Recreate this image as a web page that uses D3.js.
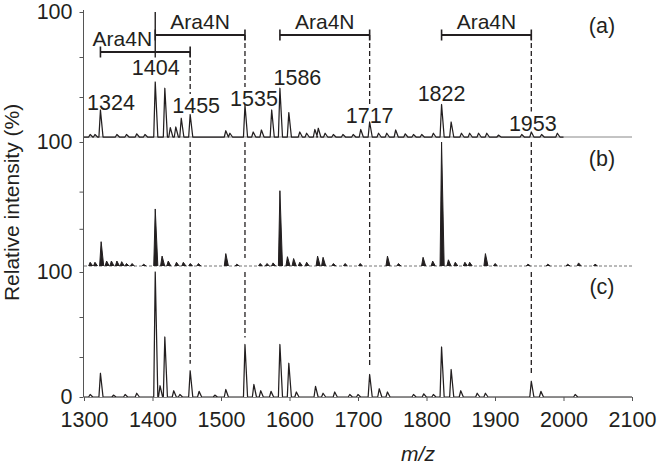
<!DOCTYPE html>
<html>
<head>
<meta charset="utf-8">
<script src="https://cdn.jsdelivr.net/npm/d3@7"></script>
<style>
body { margin: 0; background: #fff; }
text { font-family: "Liberation Sans", Arial, sans-serif; fill: #231f20; }
</style>
</head>
<body>
<svg id="chart"></svg>
<script>
// m/z axis
const xTicks = [1300, 1400, 1500, 1600, 1700, 1800, 1900, 2000, 2100];

// peaks: [m/z, relative intensity %]
const peaksA = [
  [1309,2],[1316,2],[1324,21.6],[1348,2],[1362,2],[1377,2.5],[1389,2],
  [1404,44],[1418,39],[1426,7.5],[1434,8],[1442,15],[1455,18],
  [1507,5],[1513,3],[1535,25.6],[1547,4],[1559,5.6],[1574,21.6],[1586,39],[1599,19.5],
  [1615,4],[1625,3],[1637,6],[1642,7],[1652,3],[1664,2],[1678,2],[1693,2],
  [1704,6],[1717,12],[1730,3],[1742,3],[1755,5.6],[1769,2.5],[1781,2],[1793,2],[1810,3],
  [1822,26],[1836,12],[1851,3],[1863,3],[1876,3],[1888,3],[1905,1.5],[1939,2],[1953,4],[1968,2],[1991,3]
];
const peaksB = [
  [1309,3],[1316,3],[1325,19.6],[1333,4],[1340,4],[1348,4],[1355,3.5],[1362,2],[1370,2],[1387,1.5],
  [1404,46],[1414,8],[1423,4],[1435,3],[1445,3],[1455,2],[1467,2],
  [1507,10],[1523,1.5],[1557,2],[1567,2],[1576,2.5],
  [1586,60.7],[1597,7.5],[1606,6],[1615,3],[1625,3],[1641,8],[1649,7],[1664,2],[1681,2],
  [1703,2],[1743,8],[1759,2],[1795,7],[1809,4],
  [1822,100],[1832,5],[1842,3],[1856,3],[1863,3],[1886,10],[1900,2],[1948,1.5],[1977,1.5],[2006,1.5],[2022,2.5],[2046,1.5]
];
const peaksC = [
  [1309,2],[1324,19],[1343,1.5],[1360,2],[1377,3],
  [1404,100],[1411,9],[1418,48],[1431,5],[1440,2],[1455,21],[1468,4.5],[1491,1.5],
  [1507,6],[1535,42],[1548,10],[1558,5],[1573,4.5],[1586,42],[1599,27],[1610,4],
  [1638,8.5],[1649,3],[1666,4],[1688,2],[1700,2],
  [1717,18],[1731,6.6],[1743,4],[1781,2],[1796,2.5],[1810,2],
  [1822,40],[1836,22],[1850,5],[1874,3],[1886,3],
  [1953,12.6],[1967,4.5],[2017,2]
];

// annotations
const peakLabels = [1324, 1404, 1455, 1535, 1586, 1717, 1822, 1953];
const brackets = [[1324, 1455], [1404, 1535], [1586, 1717], [1822, 1953]];
const bracketText = "Ara4N";
const dashedAt = [1455, 1535, 1717, 1953];
const panelNames = ["(a)", "(b)", "(c)"];

const W = 658, H = 466;
const ink = "#231f20";
const svg = d3.select("#chart").attr("width", W).attr("height", H);

const x = d3.scaleLinear().domain([1300, 2100]).range([84, 632]);

const panels = [
  { name: panelNames[0], peaks: peaksA, y: d3.scaleLinear().domain([0, 100]).range([137, 12]), end: 2000, minor: [32, 64], nameY: 32.5 },
  { name: panelNames[1], peaks: peaksB, y: d3.scaleLinear().domain([0, 100]).range([266, 142]), end: 2100, minor: [30, 60], nameY: 165.5 },
  { name: panelNames[2], peaks: peaksC, y: d3.scaleLinear().domain([0, 100]).range([397, 272]), end: 2100, minor: [32, 64], nameY: 294 }
];

const wl = 2.2, wr = 3.8; // peak half widths in m/z units

function peakPts(p) {
  return [[p[0] - wl, 0], [p[0], p[1]], [p[0] + wr, 0]];
}

// y axis line
svg.append("line")
   .attr("x1", 83.5).attr("x2", 83.5)
   .attr("y1", 10).attr("y2", 397)
   .attr("stroke", "#555").attr("stroke-width", 1);

panels.forEach(function(pn, i) {
  let y = pn.y;
  let line = d3.line().x(d => x(d[0])).y(d => y(d[1]));

  // baselines
  if (i == 0) {
    svg.append("line").attr("x1", x(1300)).attr("x2", x(2100))
       .attr("y1", y(0)).attr("y2", y(0))
       .attr("stroke", "#888").attr("stroke-width", 1);
  }
  if (i == 1) {
    svg.append("line").attr("x1", x(1300)).attr("x2", x(2100))
       .attr("y1", y(0)).attr("y2", y(0))
       .attr("stroke", "#777").attr("stroke-width", 1)
       .attr("stroke-dasharray", "3,2");
  }

  // spectrum
  if (i == 1) {
    pn.peaks.forEach(function(p) {
      svg.append("path").attr("d", line(peakPts(p)))
         .attr("fill", ink).attr("stroke", ink).attr("stroke-width", 1);
    });
  } else {
    let pts = [[1300, 0]];
    pn.peaks.forEach(p => pts.push(...peakPts(p)));
    pts.push([pn.end, 0]);
    svg.append("path").attr("d", line(pts))
       .attr("fill", "none").attr("stroke", ink).attr("stroke-width", 1.25)
       .attr("stroke-linejoin", "round");
  }

  // y ticks
  let ax = d3.axisLeft(y)
             .tickValues([100].concat(pn.minor).concat(i == 2 ? [0] : []))
             .tickSize(4).tickPadding(7)
             .tickFormat(d => (d == 100 || d == 0) ? d : "");
  let g = svg.append("g").attr("transform", "translate(83.5,0)").call(ax);
  g.select(".domain").remove();
  g.selectAll("line").attr("stroke", "#555");
  g.selectAll("text").style("font-size", "21.5px").attr("fill", ink)
   .style("font-family", "'Liberation Sans', Arial, sans-serif");

  svg.append("text")
     .attr("x", 602).attr("y", pn.nameY)
     .attr("text-anchor", "middle")
     .style("font-size", "21.5px")
     .text(pn.name);
});

// x axis
let xg = svg.append("g").attr("transform", "translate(0,397)")
            .call(d3.axisBottom(x).tickValues(xTicks).tickFormat(d3.format("d"))
                    .tickSize(4).tickSizeOuter(0).tickPadding(11));
xg.select(".domain").attr("stroke", "#888");
xg.selectAll("line").attr("stroke", "#555");
xg.selectAll("text").style("font-size", "21.5px").attr("fill", ink)
  .style("font-family", "'Liberation Sans', Arial, sans-serif");

// panel (a) annotations
const yA = panels[0].y, yB = panels[1].y, yC = panels[2].y;
const labelPlace = { 1324: [10.5, 22], 1404: [0.5, 49.6], 1455: [6, 19.2], 1535: [9, 24.8],
                     1586: [17.5, 41.6], 1717: [0, 11.2], 1822: [0, 29.2], 1953: [1.5, 5.2] };
peakLabels.forEach(function(m) {
  svg.append("text")
     .attr("x", x(m) + labelPlace[m][0])
     .attr("y", yA(labelPlace[m][1]))
     .attr("text-anchor", "middle")
     .style("font-size", "21.5px")
     .text(m);
});

const bLevel = [68, 81.6, 81.6, 81.6];
const bTextDx = [-23, 0, 0, 0];
brackets.forEach(function(b, i) {
  let yy = yA(bLevel[i]);
  svg.append("line").attr("x1", x(b[0])).attr("x2", x(b[1]))
     .attr("y1", yy).attr("y2", yy)
     .attr("stroke", ink).attr("stroke-width", 1.8);
  [b[0], b[1]].forEach(function(m) {
    svg.append("line").attr("x1", x(m)).attr("x2", x(m))
       .attr("y1", yy - 5.5).attr("y2", yy + 5.5)
       .attr("stroke", ink).attr("stroke-width", 1.6);
  });
  svg.append("text")
     .attr("x", (x(b[0]) + x(b[1])) / 2 + bTextDx[i])
     .attr("y", yy - 6)
     .attr("text-anchor", "middle")
     .style("font-size", "21px")
     .text(bracketText);
});

// solid marker at 1404 from top down through lower bracket
svg.append("line").attr("x1", x(1404)).attr("x2", x(1404))
   .attr("y1", yA(100)).attr("y2", yA(bLevel[0]) + 5.5)
   .attr("stroke", ink).attr("stroke-width", 1.4);

// dashed guide lines
const peakC = new Map(peaksC.map(p => [p[0], p[1]]));
dashedAt.forEach(function(m, i) {
  let top = yA(bLevel[i == 0 ? 0 : 1]);
  let lab = yA(labelPlace[m][1]) - 19;
  let segs = [[top, lab], [yB(100), yB(6.5)], [yC(100), yC(peakC.get(m)) - 7]];
  segs.forEach(function(s) {
    svg.append("line").attr("x1", x(m)).attr("x2", x(m))
       .attr("y1", s[0]).attr("y2", s[1])
       .attr("stroke", ink).attr("stroke-width", 1.3)
       .attr("stroke-dasharray", "5,3");
  });
});

// axis titles
svg.append("text")
   .attr("transform", "translate(19,202.5) rotate(-90)")
   .attr("text-anchor", "middle")
   .style("font-size", "21px")
   .text("Relative intensity (%)");

svg.append("text")
   .attr("x", 418).attr("y", 461)
   .attr("text-anchor", "middle")
   .style("font-size", "21px")
   .style("font-style", "italic")
   .text("m/z");
</script>
</body>
</html>
